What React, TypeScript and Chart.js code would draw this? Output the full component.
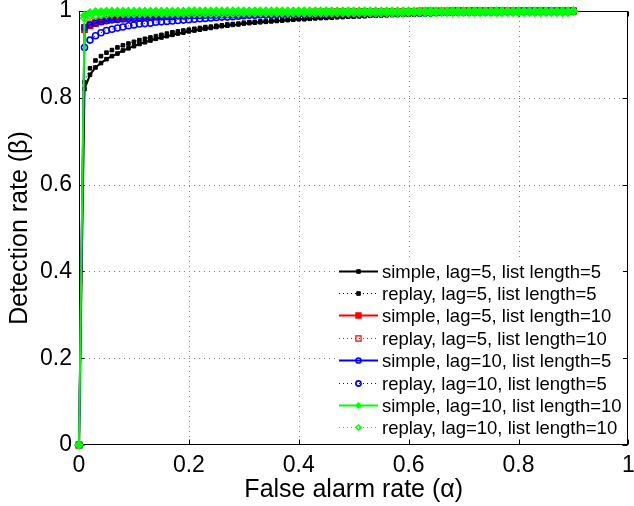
import React, { useEffect, useRef } from 'react';
import { Chart, registerables } from 'chart.js';

Chart.register(...registerables);

// ---------- DATA ----------
const ALPHA = [
  0, 0.01, 0.02, 0.03, 0.04, 0.05, 0.06, 0.07, 0.08, 0.09,
  0.10, 0.11, 0.12, 0.13, 0.14, 0.15, 0.16, 0.17, 0.18, 0.19,
  0.20, 0.21, 0.22, 0.23, 0.24, 0.25, 0.26, 0.27, 0.28, 0.29,
  0.30, 0.31, 0.32, 0.33, 0.34, 0.35, 0.36, 0.37, 0.38, 0.39,
  0.40, 0.41, 0.42, 0.43, 0.44, 0.45, 0.46, 0.47, 0.48, 0.49,
  0.50, 0.51, 0.52, 0.53, 0.54, 0.55, 0.56, 0.57, 0.58, 0.59,
  0.60, 0.61, 0.62, 0.63, 0.64, 0.65, 0.66, 0.67, 0.68, 0.69,
  0.70, 0.71, 0.72, 0.73, 0.74, 0.75, 0.76, 0.77, 0.78, 0.79,
  0.80, 0.81, 0.82, 0.83, 0.84, 0.85, 0.86, 0.87, 0.88, 0.89,
  0.90,
];

const SIMPLE_LAG5_LL5 = [
  0, 0.820, 0.853, 0.870, 0.880, 0.889, 0.896, 0.902, 0.909, 0.914,
  0.919, 0.924, 0.928, 0.932, 0.936, 0.939, 0.942, 0.945, 0.948, 0.950,
  0.953, 0.955, 0.957, 0.959, 0.961, 0.963, 0.965, 0.966, 0.968, 0.969,
  0.971, 0.972, 0.973, 0.974, 0.975, 0.976, 0.977, 0.978, 0.979, 0.980,
  0.981, 0.981, 0.982, 0.983, 0.984, 0.984, 0.985, 0.986, 0.986, 0.987,
  0.987, 0.988, 0.988, 0.989, 0.989, 0.990, 0.990, 0.991, 0.991, 0.991,
  0.992, 0.992, 0.992, 0.993, 0.993, 0.993, 0.994, 0.994, 0.994, 0.995,
  0.995, 0.995, 0.995, 0.996, 0.996, 0.996, 0.996, 0.997, 0.997, 0.997,
  0.997, 0.998, 0.998, 0.998, 0.998, 0.998, 0.999, 0.999, 0.999, 0.999,
  1,
];

const REPLAY_LAG5_LL5 = [
  0, 0.836, 0.868, 0.886, 0.896, 0.904, 0.910, 0.916, 0.921, 0.925,
  0.929, 0.933, 0.936, 0.939, 0.942, 0.945, 0.948, 0.951, 0.953, 0.955,
  0.957, 0.959, 0.961, 0.963, 0.964, 0.966, 0.967, 0.969, 0.970, 0.971,
  0.973, 0.974, 0.975, 0.976, 0.977, 0.978, 0.979, 0.979, 0.980, 0.981,
  0.982, 0.982, 0.983, 0.984, 0.984, 0.985, 0.985, 0.986, 0.987, 0.987,
  0.988, 0.988, 0.989, 0.989, 0.990, 0.990, 0.991, 0.991, 0.991, 0.992,
  0.992, 0.992, 0.993, 0.993, 0.993, 0.994, 0.994, 0.994, 0.995, 0.995,
  0.995, 0.995, 0.996, 0.996, 0.996, 0.996, 0.997, 0.997, 0.997, 0.997,
  0.998, 0.998, 0.998, 0.998, 0.998, 0.999, 0.999, 0.999, 0.999, 0.999,
  1,
];

const SIMPLE_LAG5_LL10 = [
  0, 0.957, 0.966, 0.971, 0.975, 0.978, 0.980, 0.982, 0.983, 0.984,
  0.985, 0.986, 0.987, 0.988, 0.988, 0.989, 0.989, 0.990, 0.990, 0.991,
  0.991, 0.992, 0.992, 0.992, 0.993, 0.993, 0.993, 0.994, 0.994, 0.994,
  0.994, 0.995, 0.995, 0.995, 0.995, 0.995, 0.996, 0.996, 0.996, 0.996,
  0.996, 0.997, 0.997, 0.997, 0.997, 0.997, 0.997, 0.998, 0.998, 0.998,
  0.998, 0.998, 0.998, 0.998, 0.998, 0.999, 0.999, 0.999, 0.999, 0.999,
  0.999, 0.999, 0.999, 0.999, 0.999, 0.999, 0.999, 0.999, 1, 1,
  1, 1, 1, 1, 1, 1, 1, 1, 1, 1,
  1, 1, 1, 1, 1, 1, 1, 1, 1, 1,
  1,
];

const REPLAY_LAG5_LL10 = [
  0, 0.962, 0.970, 0.975, 0.978, 0.981, 0.983, 0.984, 0.985, 0.986,
  0.987, 0.988, 0.989, 0.989, 0.990, 0.990, 0.991, 0.991, 0.992, 0.992,
  0.992, 0.993, 0.993, 0.993, 0.994, 0.994, 0.994, 0.994, 0.995, 0.995,
  0.995, 0.995, 0.996, 0.996, 0.996, 0.996, 0.996, 0.997, 0.997, 0.997,
  0.997, 0.997, 0.997, 0.998, 0.998, 0.998, 0.998, 0.998, 0.998, 0.998,
  0.999, 0.999, 0.999, 0.999, 0.999, 0.999, 0.999, 0.999, 0.999, 0.999,
  0.999, 0.999, 1, 1, 1, 1, 1, 1, 1, 1,
  1, 1, 1, 1, 1, 1, 1, 1, 1, 1,
  1, 1, 1, 1, 1, 1, 1, 1, 1, 1,
  1,
];

const SIMPLE_LAG10_LL5 = [
  0, 0.962, 0.968, 0.972, 0.975, 0.977, 0.979, 0.980, 0.981, 0.982,
  0.983, 0.984, 0.985, 0.985, 0.986, 0.986, 0.987, 0.987, 0.988, 0.988,
  0.989, 0.989, 0.989, 0.990, 0.990, 0.990, 0.991, 0.991, 0.991, 0.991,
  0.992, 0.992, 0.992, 0.992, 0.993, 0.993, 0.993, 0.993, 0.994, 0.994,
  0.994, 0.994, 0.994, 0.995, 0.995, 0.995, 0.995, 0.995, 0.996, 0.996,
  0.996, 0.996, 0.996, 0.996, 0.997, 0.997, 0.997, 0.997, 0.997, 0.997,
  0.997, 0.998, 0.998, 0.998, 0.998, 0.998, 0.998, 0.998, 0.998, 0.999,
  0.999, 0.999, 0.999, 0.999, 0.999, 0.999, 0.999, 0.999, 0.999, 0.999,
  1, 1, 1, 1, 1, 1, 1, 1, 1, 1,
  1,
];

const REPLAY_LAG10_LL5 = [
  0, 0.916, 0.933, 0.943, 0.950, 0.955, 0.958, 0.961, 0.963, 0.966,
  0.968, 0.970, 0.971, 0.972, 0.974, 0.975, 0.976, 0.977, 0.978, 0.979,
  0.980, 0.981, 0.982, 0.983, 0.984, 0.985, 0.986, 0.986, 0.987, 0.988,
  0.989, 0.990, 0.990, 0.991, 0.991, 0.991, 0.992, 0.992, 0.992, 0.993,
  0.993, 0.993, 0.994, 0.994, 0.994, 0.994, 0.995, 0.995, 0.995, 0.995,
  0.995, 0.995, 0.995, 0.996, 0.996, 0.996, 0.996, 0.996, 0.996, 0.996,
  0.996, 0.996, 0.996, 0.996, 0.996, 0.997, 0.997, 0.997, 0.997, 0.997,
  0.997, 0.997, 0.997, 0.997, 0.997, 0.997, 0.997, 0.998, 0.998, 0.998,
  0.998, 0.998, 0.998, 0.998, 0.998, 0.998, 0.998, 0.998, 0.998, 0.998,
  1,
];

const SIMPLE_LAG10_LL10 = [
  0, 0.990, 0.996, 0.998, 0.998, 0.999, 0.999, 0.999, 0.999, 0.999,
  0.999, 0.999, 0.999, 0.999, 0.999, 0.999, 0.999, 0.999, 0.999, 0.999,
  1, 1, 1, 1, 1, 1, 1, 1, 1, 1,
  1, 1, 1, 1, 1, 1, 1, 1, 1, 1,
  1, 1, 1, 1, 1, 1, 1, 1, 1, 1,
  1, 1, 1, 1, 1, 1, 1, 1, 1, 1,
  1, 1, 1, 1, 1, 1, 1, 1, 1, 1,
  1, 1, 1, 1, 1, 1, 1, 1, 1, 1,
  1, 1, 1, 1, 1, 1, 1, 1, 1, 1,
  1,
];

const REPLAY_LAG10_LL10 = [
  0, 0.984, 0.989, 0.991, 0.992, 0.993, 0.994, 0.994, 0.994, 0.994,
  0.994, 0.994, 0.995, 0.995, 0.995, 0.995, 0.995, 0.995, 0.995, 0.995,
  0.995, 0.995, 0.995, 0.995, 0.995, 0.995, 0.995, 0.995, 0.995, 0.995,
  0.996, 0.996, 0.996, 0.996, 0.996, 0.996, 0.996, 0.996, 0.996, 0.996,
  0.996, 0.996, 0.996, 0.996, 0.996, 0.996, 0.996, 0.996, 0.996, 0.996,
  0.996, 0.996, 0.996, 0.996, 0.996, 0.996, 0.996, 0.996, 0.996, 0.996,
  0.997, 0.997, 0.997, 0.997, 0.997, 0.997, 0.997, 0.997, 0.997, 0.997,
  0.997, 0.997, 0.997, 0.997, 0.997, 0.997, 0.997, 0.997, 0.997, 0.997,
  0.997, 0.997, 0.997, 0.997, 0.997, 0.997, 0.997, 0.997, 0.997, 0.997,
  1,
];

const SERIES_LABELS = [
  'simple, lag=5, list length=5',
  'replay, lag=5, list length=5',
  'simple, lag=5, list length=10',
  'replay, lag=5, list length=10',
  'simple, lag=10, list length=5',
  'replay, lag=10, list length=5',
  'simple, lag=10, list length=10',
  'replay, lag=10, list length=10',
];

const SERIES_VALUES = [
  SIMPLE_LAG5_LL5,
  REPLAY_LAG5_LL5,
  SIMPLE_LAG5_LL10,
  REPLAY_LAG5_LL10,
  SIMPLE_LAG10_LL5,
  REPLAY_LAG10_LL5,
  SIMPLE_LAG10_LL10,
  REPLAY_LAG10_LL10,
];

const X_TICKS = [0, 0.2, 0.4, 0.6, 0.8, 1];
const Y_TICKS = [0, 0.2, 0.4, 0.6, 0.8, 1];
const X_TITLE = 'False alarm rate (\u03B1)';
const Y_TITLE = 'Detection rate (\u03B2)';

// ---------- STYLES ----------
type Shape = 'rect' | 'circle' | 'diamond';
interface SeriesStyle {
  color: string;
  dash: number[];
  width: number;
  shape: Shape;
  size: number; // half-size in px
  fill: boolean;
  mlw: number;
}

const STYLES: SeriesStyle[] = [
  { color: '#000000', dash: [], width: 2, shape: 'rect', size: 1.8, fill: true, mlw: 1 },
  { color: '#000000', dash: [1, 3], width: 1, shape: 'rect', size: 1.8, fill: true, mlw: 1 },
  { color: '#ff0000', dash: [], width: 2, shape: 'rect', size: 2.8, fill: true, mlw: 1.2 },
  { color: '#ff0000', dash: [1, 3], width: 1, shape: 'rect', size: 2.8, fill: false, mlw: 1.2 },
  { color: '#0000ff', dash: [], width: 2, shape: 'circle', size: 2.8, fill: false, mlw: 1.5 },
  { color: '#0000ff', dash: [1, 3], width: 1, shape: 'circle', size: 3, fill: false, mlw: 1.6 },
  { color: '#00ff00', dash: [], width: 2, shape: 'diamond', size: 4, fill: true, mlw: 1.2 },
  { color: '#00ff00', dash: [1, 3], width: 1, shape: 'diamond', size: 4, fill: false, mlw: 1.4 },
];

const FONT = '"Liberation Sans", Arial, Helvetica, sans-serif';
const TICK_FONT_SIZE = 23;
const TITLE_FONT_SIZE = 25;
const LEGEND_FONT_SIZE = 18.5;

function drawMarker(
  ctx: CanvasRenderingContext2D,
  st: SeriesStyle,
  x: number,
  y: number
) {
  const r = st.size;
  ctx.save();
  ctx.setLineDash([]);
  ctx.beginPath();
  if (st.shape === 'rect') {
    ctx.rect(x - r, y - r, 2 * r, 2 * r);
  } else if (st.shape === 'circle') {
    ctx.arc(x, y, r, 0, Math.PI * 2);
  } else {
    ctx.moveTo(x - r, y);
    ctx.lineTo(x, y - r);
    ctx.lineTo(x + r, y);
    ctx.lineTo(x, y + r);
    ctx.closePath();
  }
  if (st.fill) {
    ctx.fillStyle = st.color;
    ctx.fill();
  }
  ctx.lineWidth = st.mlw;
  ctx.strokeStyle = st.color;
  ctx.stroke();
  ctx.restore();
}

const decorPlugin = {
  id: 'matlabDecor',
  beforeDatasetsDraw(chart: any) {
    const { ctx, chartArea: a, scales } = chart;
    ctx.save();
    // dotted grid
    ctx.strokeStyle = '#808080';
    ctx.lineWidth = 1;
    ctx.setLineDash([1, 4]);
    X_TICKS.forEach((v) => {
      if (v <= 0 || v >= 1) return;
      const x = Math.round(scales.x.getPixelForValue(v)) + 0.5;
      ctx.beginPath();
      ctx.moveTo(x, a.top);
      ctx.lineTo(x, a.bottom);
      ctx.stroke();
    });
    Y_TICKS.forEach((v) => {
      if (v <= 0 || v >= 1) return;
      const y = Math.round(scales.y.getPixelForValue(v)) + 0.5;
      ctx.beginPath();
      ctx.moveTo(a.left, y);
      ctx.lineTo(a.right, y);
      ctx.stroke();
    });
    ctx.setLineDash([]);
    // box
    ctx.strokeStyle = '#000000';
    ctx.lineWidth = 1;
    const l = Math.round(a.left) + 0.5;
    const r = Math.round(a.right) - 0.5;
    const t = Math.round(a.top) + 0.5;
    const b = Math.round(a.bottom) - 0.5;
    ctx.strokeRect(l, t, r - l, b - t);
    // inward ticks
    const tl = 5;
    ctx.beginPath();
    X_TICKS.forEach((v) => {
      const x = Math.round(scales.x.getPixelForValue(v)) + 0.5;
      ctx.moveTo(x, b);
      ctx.lineTo(x, b - tl);
      ctx.moveTo(x, t);
      ctx.lineTo(x, t + tl);
    });
    Y_TICKS.forEach((v) => {
      const y = Math.round(scales.y.getPixelForValue(v)) + 0.5;
      ctx.moveTo(l, y);
      ctx.lineTo(l + tl, y);
      ctx.moveTo(r, y);
      ctx.lineTo(r - tl, y);
    });
    ctx.stroke();
    ctx.restore();
  },
  afterDatasetsDraw(chart: any) {
    const { ctx } = chart;
    ctx.save();
    // legend background
    ctx.fillStyle = '#ffffff';
    ctx.fillRect(336, 259, 287, 180);
    const top = 270.6;
    const step = 22.4;
    const x0 = 339;
    const x1 = 378;
    ctx.font = `${LEGEND_FONT_SIZE}px ${FONT}`;
    ctx.textBaseline = 'middle';
    ctx.textAlign = 'left';
    SERIES_LABELS.forEach((label, i) => {
      const st = STYLES[i];
      const y = Math.round(top + i * step) + 0.5;
      ctx.beginPath();
      ctx.strokeStyle = st.color;
      ctx.lineWidth = st.width;
      ctx.setLineDash(st.dash);
      ctx.moveTo(x0, y);
      ctx.lineTo(x1, y);
      ctx.stroke();
      ctx.setLineDash([]);
      drawMarker(ctx, { ...st, size: Math.min(st.size, 2.6) }, (x0 + x1) / 2, y);
      ctx.fillStyle = '#000000';
      ctx.fillText(label, 382, y + 1);
    });
    ctx.restore();
  },
};

function pointStyleFor(shape: Shape) {
  if (shape === 'rect') return 'rect';
  if (shape === 'circle') return 'circle';
  return 'rectRot';
}

export default function App() {
  const canvasRef = useRef<HTMLCanvasElement | null>(null);

  useEffect(() => {
    document.body.style.margin = '0';
    const canvas = canvasRef.current;
    if (!canvas) return;

    const datasets = SERIES_VALUES.map((vals, i) => {
      const st = STYLES[i];
      // Chart.js 'rect' draws a square of side sqrt(2)*radius
      const radius = st.shape === 'rect' ? st.size * Math.SQRT2 : st.size;
      return {
        label: SERIES_LABELS[i],
        data: ALPHA.map((a, k) => ({ x: a, y: vals[k] })),
        showLine: true,
        borderColor: st.color,
        borderWidth: st.width,
        borderDash: st.dash,
        backgroundColor: st.color,
        pointStyle: pointStyleFor(st.shape),
        pointRadius: radius,
        pointBorderWidth: st.mlw,
        pointBorderColor: st.color,
        pointBackgroundColor: st.fill ? st.color : 'rgba(0,0,0,0)',
        tension: 0,
        clip: false as any,
        order: SERIES_VALUES.length - i,
      };
    });

    const fmt = (v: any) => String(Number(Number(v).toFixed(1)));

    const chart = new Chart(canvas, {
      type: 'scatter',
      data: { datasets },
      options: {
        animation: false,
        responsive: false,
        devicePixelRatio: 1,
        layout: { padding: { top: 11, right: 3, left: 0, bottom: 0 } },
        plugins: {
          legend: { display: false },
          tooltip: { enabled: false },
        },
        scales: {
          x: {
            type: 'linear',
            min: 0,
            max: 1,
            afterBuildTicks: (scale: any) => {
              scale.ticks = X_TICKS.map((v) => ({ value: v }));
            },
            ticks: {
              autoSkip: false,
              maxRotation: 0,
              padding: 7,
              color: '#000000',
              font: { family: FONT, size: TICK_FONT_SIZE },
              callback: fmt,
            },
            grid: { display: false, drawTicks: false },
            border: { display: false },
            title: {
              display: true,
              text: X_TITLE,
              color: '#000000',
              font: { family: FONT, size: TITLE_FONT_SIZE },
              padding: { top: 0, bottom: 1 },
            },
            afterFit: (scale: any) => {
              scale.height = 61;
              scale.paddingLeft = 0;
              scale.paddingRight = 0;
            },
          },
          y: {
            type: 'linear',
            min: 0,
            max: 1,
            afterBuildTicks: (scale: any) => {
              scale.ticks = Y_TICKS.map((v) => ({ value: v }));
            },
            ticks: {
              autoSkip: false,
              padding: 7,
              color: '#000000',
              font: { family: FONT, size: TICK_FONT_SIZE },
              callback: fmt,
            },
            grid: { display: false, drawTicks: false },
            border: { display: false },
            title: {
              display: true,
              text: Y_TITLE,
              color: '#000000',
              font: { family: FONT, size: TITLE_FONT_SIZE },
              padding: { top: 5, bottom: 0 },
            },
            afterFit: (scale: any) => {
              scale.width = 79;
              scale.paddingTop = 0;
              scale.paddingBottom = 0;
            },
          },
        },
      },
      plugins: [decorPlugin],
    });

    return () => {
      chart.destroy();
    };
  }, []);

  return (
    <div style={{ position: 'absolute', left: 0, top: 0, width: 634, height: 506, background: '#ffffff' }}>
      <canvas ref={canvasRef} width={634} height={506} style={{ display: 'block', width: 634, height: 506 }} />
    </div>
  );
}
